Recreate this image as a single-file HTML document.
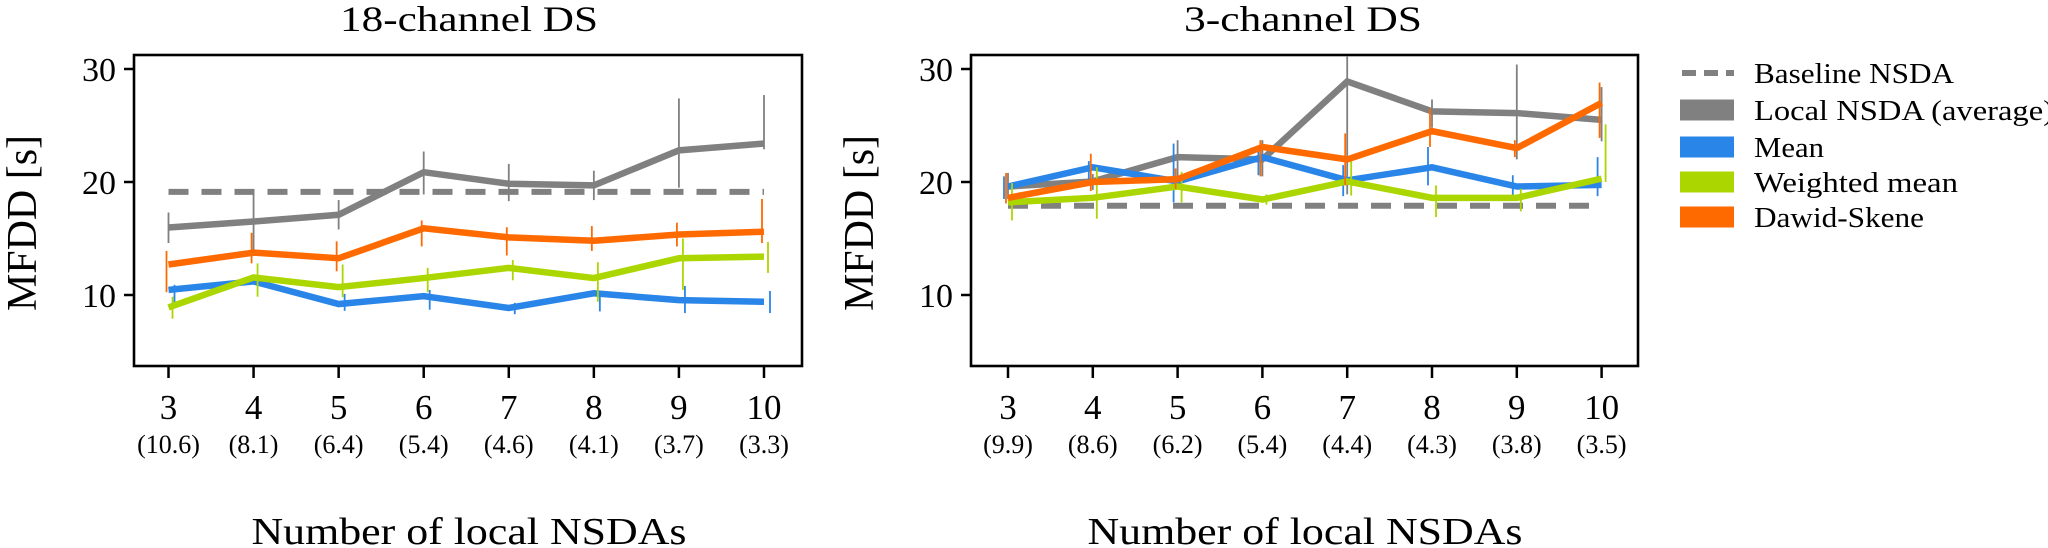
<!DOCTYPE html>
<html><head><meta charset="utf-8">
<style>
html,body{margin:0;padding:0;background:#fff;}
svg{display:block;font-family:"Liberation Serif",serif;}
</style></head>
<body>
<svg id="chart" width="2048" height="548" viewBox="0 0 2048 548" xmlns="http://www.w3.org/2000/svg"></svg>
<script>
const categories = [3,4,5,6,7,8,9,10];
const leftSub = ["(10.6)","(8.1)","(6.4)","(5.4)","(4.6)","(4.1)","(3.7)","(3.3)"];
const rightSub = ["(9.9)","(8.6)","(6.2)","(5.4)","(4.4)","(4.3)","(3.8)","(3.5)"];
const yTicks = [10,20,30];
const leftBaseline = 19.13;
const rightBaseline = 17.9;
// left panel (18-channel)
const leftGray = [15.97,16.5,17.1,20.87,19.85,19.7,22.8,23.4];
const leftGrayHi = [17.3,19.0,18.4,22.7,21.6,21.0,27.4,27.7];
const leftGrayLo = [14.6,14.0,15.8,18.9,18.3,18.4,19.5,22.9];
const leftOrange = [12.7,13.75,13.25,15.9,15.1,14.8,15.35,15.6];
const leftOrangeHi = [13.9,15.5,14.75,16.6,16.0,16.1,16.4,18.5];
const leftOrangeLo = [10.25,12.8,12.1,14.3,13.5,13.9,14.3,14.6];
const leftGreen = [8.9,11.55,10.7,11.5,12.4,11.5,13.25,13.4];
const leftGreenHi = [9.85,12.8,12.7,12.4,13.1,12.9,15.0,14.7];
const leftGreenLo = [7.9,9.85,9.8,10.25,11.3,9.4,10.45,11.95];
const leftBlue = [10.45,11.2,9.2,9.9,8.85,10.15,9.55,9.4];
const leftBlueHi = [10.9,11.5,10.1,10.45,9.3,10.4,10.8,10.35];
const leftBlueLo = [8.85,10.9,8.6,8.7,8.3,8.55,8.4,8.4];
// right panel (3-channel)
const rightGray = [19.6,20.05,22.2,22.0,28.9,26.25,26.1,25.5];
const rightGrayHi = [20.8,20.7,23.7,23.7,31.1,27.3,30.4,28.4];
const rightGrayLo = [18.5,19.3,20.0,20.5,18.9,24.8,22.0,23.6];
const rightOrange = [18.6,20.0,20.25,23.1,22.0,24.5,23.0,27.0];
const rightOrangeHi = [20.8,22.5,21.2,23.7,24.3,26.5,23.7,28.8];
const rightOrangeLo = [18.1,19.2,19.4,20.5,19.7,23.1,22.2,23.9];
const rightBlue = [19.6,21.3,20.05,22.2,20.15,21.3,19.6,19.75];
const rightBlueHi = [20.5,21.85,23.4,22.8,21.5,23.1,20.6,22.2];
const rightBlueLo = [18.5,19.7,18.2,20.6,18.75,19.7,18.6,18.75];
const rightGreen = [18.2,18.6,19.6,18.45,20.05,18.6,18.6,20.3];
const rightGreenHi = [19.9,21.3,20.9,18.9,21.85,19.7,19.4,25.1];
const rightGreenLo = [16.6,16.75,18.2,18.0,18.8,16.9,17.4,20.0];
const legendLabels = ["Baseline NSDA","Local NSDA (average)","Mean","Weighted mean","Dawid-Skene"];

const NS="http://www.w3.org/2000/svg";
const svg=document.getElementById('chart');
function mk(tag,attrs,parent,text){const e=document.createElementNS(NS,tag);for(const k in attrs)e.setAttribute(k,attrs[k]);if(text!==undefined)e.textContent=text;(parent||svg).appendChild(e);return e;}
const yTop=55,yBot=366;
function yS(v){return 182-(v-20)*11.3;}
const COL={gray:"#808080",orange:"#ff6a00",green:"#acd600",blue:"#2a85e8"};

function panel(opt){
  const g=mk('g',{});
  
  
  const xS=c=>opt.x3+(c-3)*opt.step;
  const t=mk('text',{x:opt.titleX,y:31,'font-size':36,'text-anchor':'middle',textLength:opt.titleW,lengthAdjust:'spacingAndGlyphs'},g,opt.title);
  
  
  const yl=mk('text',{x:0,y:0,'font-size':42,'text-anchor':'middle',transform:`translate(${opt.ylabX},223) rotate(-90)`,textLength:176,lengthAdjust:'spacingAndGlyphs'},g,'MFDD [s]');
  
  
  const xl=mk('text',{x:opt.xlabX,y:544,'font-size':38,'text-anchor':'middle',textLength:435,lengthAdjust:'spacingAndGlyphs'},g,'Number of local NSDAs');
  
  
  yTicks.forEach(v=>{
    const y=yS(v);
    const tk=mk('line',{x1:opt.left-10,x2:opt.left,y1:y,y2:y,stroke:'#000','stroke-width':2.5},g);
    
    
    const tl=mk('text',{x:opt.left-18,y:y+12,'font-size':34,'text-anchor':'end'},g,String(v));
    
    
  });
  categories.forEach((c,i)=>{
    const x=xS(c);
    const tk=mk('line',{x1:x,x2:x,y1:yBot,y2:yBot+12,stroke:'#000','stroke-width':2.5},g);
    
    
    const tl=mk('text',{x:x,y:419,'font-size':35,'text-anchor':'middle'},g,String(c));
    
    
    const sl=mk('text',{x:x,y:453,'font-size':26,'text-anchor':'middle'},g,opt.sub[i]);
    
    
  });
  const bl=mk('line',{x1:xS(3),x2:xS(10),y1:yS(opt.base),y2:yS(opt.base),stroke:COL.gray,'stroke-width':6,'stroke-dasharray':'20 13'},g);
  
  
  opt.series.forEach(s=>{
    const sg=mk('g',{},g);
    
    
    s.vals.forEach((v,i)=>{
      const x=xS(categories[i])+s.off;
      const eb=mk('line',{x1:x,x2:x,y1:Math.max(yS(s.hi[i]),yTop),y2:yS(s.lo[i]),stroke:s.col,'stroke-width':1.8},sg);
      
      
    });
    const pts=s.vals.map((v,i)=>xS(categories[i])+','+yS(v)).join(' ');
    const pl=mk('polyline',{points:pts,fill:'none',stroke:s.col,'stroke-width':6.5,'stroke-linejoin':'miter'},sg);
    
    
  });
  const fr=mk('rect',{x:opt.left,y:yTop,width:opt.right-opt.left,height:yBot-yTop,fill:'none',stroke:'#000','stroke-width':2.6},g);
  
  
}

panel({name:'panel-18-channel',title:'18-channel DS',titleW:258,titleX:469,ylabX:36,xlabX:469,left:134,right:802,x3:168.5,step:85.07,sub:leftSub,base:leftBaseline,
  series:[
    {name:'local-nsda',col:COL.gray,vals:leftGray,hi:leftGrayHi,lo:leftGrayLo,off:0},
    {name:'mean',col:COL.blue,vals:leftBlue,hi:leftBlueHi,lo:leftBlueLo,off:6},
    {name:'weighted-mean',col:COL.green,vals:leftGreen,hi:leftGreenHi,lo:leftGreenLo,off:4},
    {name:'dawid-skene',col:COL.orange,vals:leftOrange,hi:leftOrangeHi,lo:leftOrangeLo,off:-2}
  ]});
panel({name:'panel-3-channel',title:'3-channel DS',titleW:238,titleX:1303,ylabX:873,xlabX:1305,left:971,right:1638,x3:1008,step:84.8,sub:rightSub,base:rightBaseline,
  series:[
    {name:'local-nsda',col:COL.gray,vals:rightGray,hi:rightGrayHi,lo:rightGrayLo,off:0},
    {name:'mean',col:COL.blue,vals:rightBlue,hi:rightBlueHi,lo:rightBlueLo,off:-4},
    {name:'weighted-mean',col:COL.green,vals:rightGreen,hi:rightGreenHi,lo:rightGreenLo,off:4},
    {name:'dawid-skene',col:COL.orange,vals:rightOrange,hi:rightOrangeHi,lo:rightOrangeLo,off:-2}
  ]});

const lg=mk('g',{});


const legCols=[null,COL.gray,COL.blue,COL.green,COL.orange];
const legY=[73,110,147,182,217];
const legW=[200,300,70,204,170];
legendLabels.forEach((lab,i)=>{
  const eg=mk('g',{},lg);
  
  
  if(i===0){
    const d=mk('line',{x1:1682,x2:1734,y1:legY[i],y2:legY[i],stroke:COL.gray,'stroke-width':6,'stroke-dasharray':'14 8'},eg);
    
    
  } else {
    const r=mk('rect',{x:1680,y:legY[i]-10.5,width:54,height:21,fill:legCols[i]},eg);
    
    
  }
  const t=mk('text',{x:1754,y:legY[i]+10,'font-size':29,textLength:legW[i],lengthAdjust:'spacingAndGlyphs'},eg,lab);
  
  
});
</script>
</body></html>
